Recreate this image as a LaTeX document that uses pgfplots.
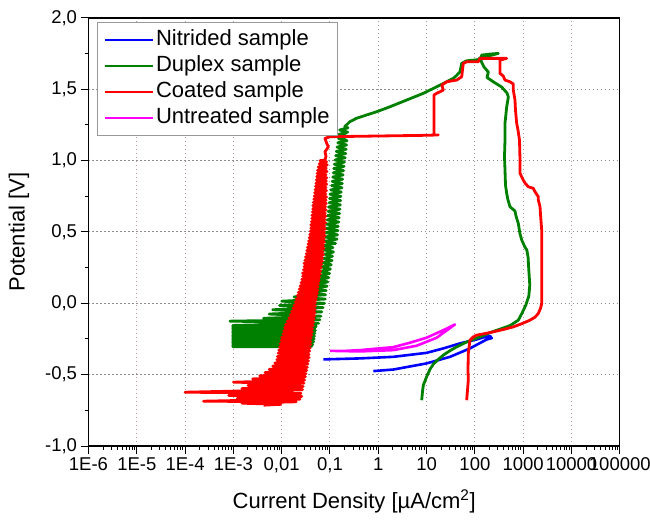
\documentclass[border=0pt]{standalone}
\usepackage{fontspec}
\setmainfont{Liberation Sans}
\usepackage{pgfplots}
\pgfplotsset{compat=1.18}
\definecolor{dgreen}{RGB}{0,128,0}
\definecolor{pblue}{RGB}{0,0,255}
\definecolor{pred}{RGB}{255,0,0}
\definecolor{pmag}{RGB}{255,0,255}
\definecolor{vgrid}{RGB}{185,150,160}
\definecolor{hgrid}{RGB}{140,140,140}
\begin{document}
\begin{tikzpicture}[x=1pt,y=1pt]
\useasboundingbox (-88.5,-73) rectangle (561.5,446);
\begin{axis}[
  at={(0,0)}, anchor=south west,
  scale only axis, width=531.3pt, height=428pt,
  xmode=log, xmin=1e-6, xmax=1e5, ymin=-1, ymax=2,
  xtick={1e-6,1e-5,1e-4,1e-3,1e-2,1e-1,1,10,100,1000,10000,100000},
  xticklabels={1E-6,1E-5,1E-4,1E-3,{0,01},{0,1},1,10,100,1000,10000,100000},
  ytick={-1,-0.5,0,0.5,1,1.5,2},
  yticklabels={{-1,0},{-0,5},{0,0},{0,5},{1,0},{1,5},{2,0}},
  minor ytick={-0.75,-0.25,0.25,0.75,1.25,1.75},
  tick align=outside, xtick pos=bottom, ytick pos=left,
  major tick length=8pt, minor tick length=4pt,
  every tick/.style={black, line width=1pt},
  grid=major,
  major x grid style={vgrid, line width=1pt, dash pattern=on 1.2pt off 2.8pt},
  major y grid style={hgrid, line width=1pt, dash pattern=on 1.2pt off 2.8pt},
  axis line style={line width=1.2pt},
  tick label style={font=\fontsize{18.5}{20}\selectfont},
  xlabel={Current Density [µA/cm\textsuperscript{2}]},
  ylabel={Potential [V]},
  xlabel style={at={(axis description cs:0.5,0)}, yshift=-62pt, anchor=base, font=\fontsize{22}{24}\selectfont},
  ylabel style={at={(axis description cs:-0.1308,0.5)}, anchor=center, font=\fontsize{22}{24}\selectfont},
  legend cell align=left,
  legend style={at={(0.016,0.991)}, anchor=north west, draw=gray!80, line width=1pt, fill=white,
    font=\fontsize{22}{26}\selectfont, inner xsep=6pt, inner ysep=5pt,
    nodes={inner sep=2pt, text height=16pt, text depth=5pt}, row sep=1pt},
  legend image code/.code={\draw[#1, line width=2.5pt] (0pt,0pt) -- (48pt,0pt);},
]
% Nitrided
\addplot[pblue, line width=2.6pt, line join=round] coordinates {
(0.788,-0.475) (2.05,-0.464) (10.0,-0.421) (30.5,-0.375) (79,-0.316) (176,-0.253) (223,-0.244) (206,-0.229) (149,-0.239) (109,-0.253) (49,-0.281) (22.2,-0.316) (10.0,-0.347) (2.05,-0.375) (0.418,-0.386) (0.0727,-0.393)
};
\addlegendentry{Nitrided sample}
% Duplex
\addplot[dgreen, line width=2.8pt, line join=round] coordinates {
(7.92,-0.679) (8.2,-0.623) (8.55,-0.574) (10.0,-0.515) (11.8,-0.461) (13.8,-0.426) (17.2,-0.395) (22.2,-0.363) (30.5,-0.332) (42,-0.305) (62.4,-0.276) (92.7,-0.253) (140,-0.230) (206,-0.205) (331,-0.181) (533,-0.156) (792,-0.118) (945,-0.069) (1130,-0.013) (1306,0.050) (1370,0.128) (1306,0.234) (1262,0.324) (1188,0.374) (1080,0.396) (935,0.443) (855,0.490) (792,0.560) (710,0.612) (677,0.647) (533,0.677) (485,0.724) (455,0.771) (430,0.830) (420,0.936) (410,1.027) (420,1.145) (420,1.262) (455,1.376) (492,1.446) (462,1.474) (359,1.516) (240,1.553) (178,1.583) (190,1.621) (155,1.656) (134,1.698) (138,1.740) (206,1.747) (305,1.752) (227,1.740) (134,1.726) (116,1.708) (67.6,1.700) (53.3,1.682) (49.1,1.623) (40.6,1.593) (35.7,1.577) (24.0,1.547) (16.2,1.518) (8.55,1.472) (3.87,1.425) (1.75,1.378) (0.927,1.343) (0.570,1.320) (0.354,1.297) (0.257,1.273) (0.202,1.238)
(0.236,1.230) (0.158,1.215) (0.232,1.200) (0.154,1.185) (0.229,1.170) (0.150,1.155) (0.225,1.140) (0.145,1.125) (0.221,1.110) (0.140,1.095) (0.216,1.080) (0.135,1.065) (0.212,1.050) (0.131,1.035) (0.206,1.020) (0.127,1.005) (0.200,0.990) (0.123,0.975) (0.195,0.960) (0.120,0.945) (0.191,0.930) (0.117,0.915) (0.187,0.900) (0.114,0.885) (0.183,0.870) (0.111,0.855) (0.180,0.840) (0.108,0.825) (0.177,0.810) (0.104,0.795) (0.171,0.780) (0.100,0.765) (0.168,0.750) (0.098,0.735) (0.166,0.720) (0.096,0.705) (0.164,0.690) (0.093,0.675) (0.161,0.660) (0.091,0.645) (0.158,0.630) (0.089,0.615) (0.155,0.600) (0.087,0.585) (0.152,0.570) (0.085,0.555) (0.148,0.540) (0.083,0.525) (0.146,0.510) (0.082,0.495) (0.143,0.480) (0.080,0.465) (0.140,0.450) (0.077,0.435) (0.130,0.420) (0.070,0.405) (0.115,0.390) (0.075,0.375) (0.118,0.360) (0.078,0.345) (0.112,0.330) (0.074,0.315) (0.110,0.300) (0.071,0.285) (0.106,0.270) (0.067,0.255) (0.102,0.240) (0.064,0.225) (0.098,0.210) (0.061,0.195) (0.094,0.180) (0.057,0.165) (0.090,0.150) (0.050,0.135) (0.087,0.120) (0.040,0.105) (0.083,0.090) (0.030,0.075) (0.081,0.060) (0.018,0.045) (0.080,0.030) (0.010,0.015) (0.077,0.000) (0.009,-0.015) (0.072,-0.030) (0.0065,-0.045) (0.068,-0.060) (0.0055,-0.075) (0.065,-0.090) (0.0042,-0.105) (0.062,-0.115) (0.00085,-0.125) (0.008,-0.130) (0.058,-0.140)
(0.00097,-0.155) (0.052,-0.160) (0.00097,-0.165) (0.050,-0.170) (0.00097,-0.175) (0.048,-0.180) (0.00097,-0.185) (0.050,-0.190) (0.00097,-0.195) (0.047,-0.200) (0.00097,-0.205) (0.049,-0.210) (0.00097,-0.215) (0.046,-0.220) (0.00097,-0.225) (0.048,-0.230) (0.00097,-0.235) (0.045,-0.240) (0.00097,-0.245) (0.047,-0.250) (0.00097,-0.255) (0.044,-0.260) (0.00097,-0.265) (0.046,-0.270) (0.00097,-0.275) (0.043,-0.280) (0.00097,-0.285) (0.044,-0.290) (0.00097,-0.295) (0.042,-0.300) (0.00097,-0.305) (0.040,-0.305)
};
\addlegendentry{Duplex sample}
% Coated
\addplot[pred, line width=2.8pt, line join=round] coordinates {
(67.6,-0.679) (70.3,-0.609) (73,-0.538) (72,-0.468) (73,-0.351) (79,-0.258) (91.3,-0.237) (109,-0.223) (162,-0.212) (240,-0.200) (382,-0.184) (624,-0.165) (945,-0.142) (1383,-0.118) (1757,-0.097) (2056,-0.071) (2286,-0.034) (2417,0.0) (2417,0.163) (2417,0.338) (2417,0.513) (2286,0.619) (2230,0.677) (2056,0.724) (2056,0.747) (1757,0.782) (1620,0.806) (1276,0.817) (1091,0.843) (1005,0.864) (859,0.911) (859,1.004) (838,1.144) (780,1.215) (733,1.262) (692,1.355) (676,1.425) (624,1.495) (624,1.537) (533,1.553) (420,1.565) (387,1.593) (330,1.612) (330,1.670) (330,1.705) (455,1.717) (300,1.717) (127,1.717) (117,1.693) (67.6,1.693) (57.5,1.682) (55.3,1.635) (53.3,1.588) (42,1.565) (26.1,1.553) (20.6,1.530) (22.2,1.495) (16.2,1.472) (14.2,1.460) (14.2,1.320) (14.2,1.180) (17.5,1.180) (7.3,1.177) (1.08,1.173) (0.1,1.168) (0.0787,1.156) (0.0855,1.121) (0.0923,1.097) (0.0787,1.062) (0.0826,1.032) (0.0787,1.004)
(0.062,1.000) (0.085,0.992) (0.060,0.978) (0.088,0.970) (0.057,0.955) (0.084,0.947) (0.055,0.932) (0.087,0.925) (0.054,0.910) (0.083,0.902) (0.053,0.888) (0.086,0.880) (0.052,0.865) (0.084,0.857) (0.051,0.842) (0.086,0.835) (0.050,0.820) (0.083,0.812) (0.049,0.797) (0.085,0.790) (0.048,0.775) (0.082,0.767) (0.047,0.752) (0.085,0.745) (0.046,0.730) (0.083,0.722) (0.045,0.707) (0.084,0.700) (0.044,0.685) (0.081,0.677) (0.044,0.662) (0.083,0.655) (0.043,0.640) (0.080,0.632) (0.042,0.617) (0.082,0.610) (0.042,0.595) (0.079,0.587) (0.041,0.572) (0.081,0.565) (0.040,0.550) (0.078,0.542) (0.040,0.527) (0.080,0.520) (0.039,0.505) (0.077,0.497) (0.038,0.482) (0.079,0.475) (0.037,0.460) (0.076,0.452) (0.036,0.437) (0.077,0.430) (0.035,0.415) (0.074,0.407) (0.034,0.392) (0.075,0.385) (0.033,0.370) (0.072,0.362) (0.032,0.347) (0.073,0.340) (0.031,0.325) (0.070,0.317) (0.030,0.302) (0.070,0.295) (0.029,0.280) (0.067,0.272) (0.029,0.257) (0.066,0.250) (0.028,0.235) (0.064,0.227) (0.027,0.212) (0.063,0.205) (0.027,0.190) (0.061,0.182) (0.026,0.167) (0.060,0.160) (0.025,0.145) (0.058,0.137) (0.024,0.122) (0.057,0.115) (0.023,0.100) (0.056,0.092) (0.022,0.077) (0.055,0.070) (0.021,0.055) (0.053,0.047) (0.020,0.032) (0.052,0.025) (0.019,0.010) (0.050,0.002) (0.018,-0.013) (0.050,-0.020) (0.017,-0.035) (0.049,-0.043) (0.016,-0.058) (0.049,-0.065) (0.015,-0.080) (0.048,-0.088) (0.014,-0.103) (0.047,-0.110) (0.013,-0.125) (0.046,-0.133) (0.012,-0.148) (0.045,-0.155) (0.0115,-0.170) (0.044,-0.178) (0.011,-0.193) (0.043,-0.200) (0.0105,-0.215) (0.042,-0.223) (0.010,-0.238) (0.041,-0.245) (0.0097,-0.260) (0.040,-0.268) (0.0093,-0.283) (0.040,-0.290) (0.009,-0.305) (0.039,-0.313) (0.0087,-0.328) (0.038,-0.335) (0.0084,-0.350) (0.037,-0.358) (0.0081,-0.373) (0.037,-0.380) (0.0079,-0.395) (0.036,-0.403) (0.0072,-0.418) (0.035,-0.425) (0.0065,-0.440) (0.034,-0.448) (0.0055,-0.463) (0.033,-0.470) (0.0045,-0.485) (0.032,-0.493) (0.0035,-0.508) (0.031,-0.515) (0.0025,-0.530) (0.030,-0.538) (0.0010,-0.553) (0.029,-0.560) (0.0020,-0.575) (0.028,-0.583) (0.0015,-0.598) (0.027,-0.605) (0.0001,-0.623) (0.025,-0.630) (0.0008,-0.645) (0.026,-0.652) (0.0012,-0.665) (0.024,-0.672) (0.00024,-0.686) (0.020,-0.690) (0.0015,-0.700) (0.0095,-0.708) (0.0042,-0.714)
};
\addlegendentry{Coated sample}
% Untreated
\addplot[pmag, line width=2.6pt, line join=round] coordinates {
(0.1,-0.333) (0.418,-0.337) (2.05,-0.328) (6.24,-0.297) (16.2,-0.241) (38.7,-0.148) (22.2,-0.188) (10.0,-0.241) (4.53,-0.276) (2.05,-0.307) (0.418,-0.328) (0.162,-0.335)
};
\addlegendentry{Untreated sample}
\end{axis}
\end{tikzpicture}
\end{document}
